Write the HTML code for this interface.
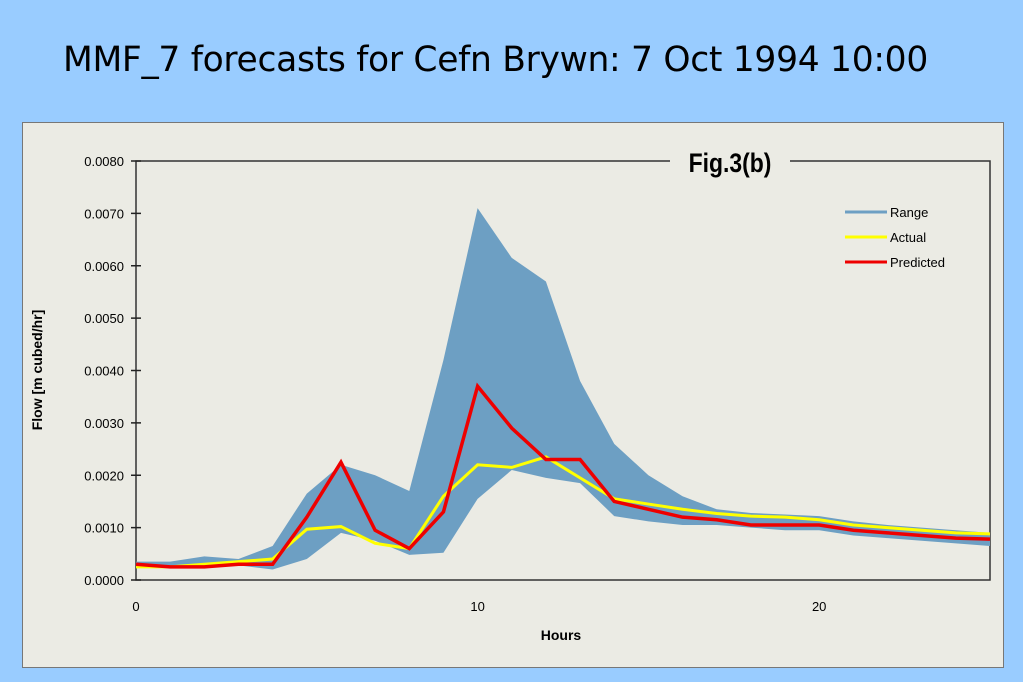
<!DOCTYPE html>
<html><head><meta charset="utf-8"><style>
body{margin:0;width:1023px;height:682px;background:#99ccff;overflow:hidden;font-family:"Liberation Sans",sans-serif}
#title{position:absolute;left:63px;top:40px;font-family:"DejaVu Sans",sans-serif;font-size:34.5px;color:#000;white-space:nowrap;letter-spacing:-0.3px}
#panel{position:absolute;left:22px;top:122px;width:980px;height:544px;background:#ebebe4;border:1px solid #777}
svg{position:absolute;left:0;top:0}
</style></head><body>
<div id="title">MMF_7 forecasts for Cefn Brywn: 7 Oct 1994 10:00</div>
<div id="panel"></div>
<svg width="1023" height="682">
<g id="g"></g>
</svg>
<script>
const hours=[0,1,2,3,4,5,6,7,8,9,10,11,12,13,14,15,16,17,18,19,20,21,22,23,24,25];
const rangeUpper=[0.35,0.35,0.45,0.4,0.65,1.65,2.2,2.0,1.7,4.2,7.1,6.15,5.7,3.8,2.6,2.0,1.6,1.35,1.28,1.25,1.22,1.12,1.05,1.0,0.95,0.9];
const rangeLower=[0.25,0.25,0.28,0.28,0.2,0.4,0.9,0.75,0.48,0.52,1.55,2.1,1.95,1.85,1.22,1.12,1.05,1.05,1.0,0.95,0.95,0.85,0.8,0.75,0.7,0.65];
const actual=[0.25,0.25,0.3,0.35,0.4,0.97,1.02,0.7,0.6,1.6,2.2,2.15,2.35,1.95,1.55,1.45,1.35,1.27,1.22,1.2,1.15,1.05,1.0,0.95,0.9,0.88];
const predicted=[0.3,0.25,0.25,0.3,0.3,1.2,2.25,0.95,0.6,1.3,3.7,2.9,2.3,2.3,1.5,1.35,1.2,1.15,1.05,1.05,1.05,0.95,0.9,0.85,0.8,0.78];
const yTicks=["0.0000","0.0010","0.0020","0.0030","0.0040","0.0050","0.0060","0.0070","0.0080"];
const xTicks=[0,10,20];
const X0=136,X1=990,Y0=580,Y1=161,XMAX=25,YMAX=8;
const sx=h=>X0+h*(X1-X0)/XMAX, sy=v=>Y0-v*(Y0-Y1)/YMAX;
const g=document.getElementById('g'),NS='http://www.w3.org/2000/svg';
function mk(t,a,txt){const e=document.createElementNS(NS,t);for(const k in a)e.setAttribute(k,a[k]);if(txt!==undefined)e.textContent=txt;g.appendChild(e);return e;}
let e=mk('rect',{x:X0,y:Y1,width:X1-X0,height:Y0-Y1,fill:'none',stroke:'#333','stroke-width':1.5});

let pts=hours.map((h,i)=>sx(h)+','+sy(rangeUpper[i])).concat(hours.slice().reverse().map((h,j)=>{const i=hours.length-1-j;return sx(h)+','+sy(rangeLower[i]);}));
e=mk('polygon',{points:pts.join(' '),fill:'#6d9fc3'});

e=mk('polyline',{points:hours.map((h,i)=>sx(h)+','+sy(actual[i])).join(' '),fill:'none',stroke:'#ffff00','stroke-width':3});

e=mk('polyline',{points:hours.map((h,i)=>sx(h)+','+sy(predicted[i])).join(' '),fill:'none',stroke:'#ee0000','stroke-width':3.5});

yTicks.forEach((t,i)=>{const y=sy(i);
 e=mk('line',{x1:X0-5,x2:X0+5,y1:y,y2:y,stroke:'#222','stroke-width':1.5});
 
 e=mk('text',{x:X0-12,y:y+5,'text-anchor':'end','font-size':13,fill:'#000'},t);
 });
xTicks.forEach(t=>{const x=sx(t);
 e=mk('text',{x:x,y:611,'text-anchor':'middle','font-size':13,fill:'#000'},t);
 });
e=mk('text',{x:561,y:640,'text-anchor':'middle','font-size':14,'font-weight':'bold'},'Hours');

e=mk('text',{x:0,y:0,'text-anchor':'middle','font-size':14,'font-weight':'bold',transform:'translate(42,370) rotate(-90)'},'Flow [m cubed/hr]');

e=mk('rect',{x:670,y:148,width:120,height:28,fill:'#ebebe4'});

e=mk('text',{x:730,y:172,'text-anchor':'middle','font-size':27,'font-weight':'bold',transform:'translate(730,0) scale(0.85,1) translate(-730,0)'},'Fig.3(b)');

[['Range','#6d9fc3',212],['Actual','#ffff00',237],['Predicted','#ee0000',262]].forEach(l=>{
 e=mk('line',{x1:845,x2:887,y1:l[2],y2:l[2],stroke:l[1],'stroke-width':3});
 
 e=mk('text',{x:890,y:l[2]+5,'font-size':13},l[0]);
 });
</script>
</body></html>
